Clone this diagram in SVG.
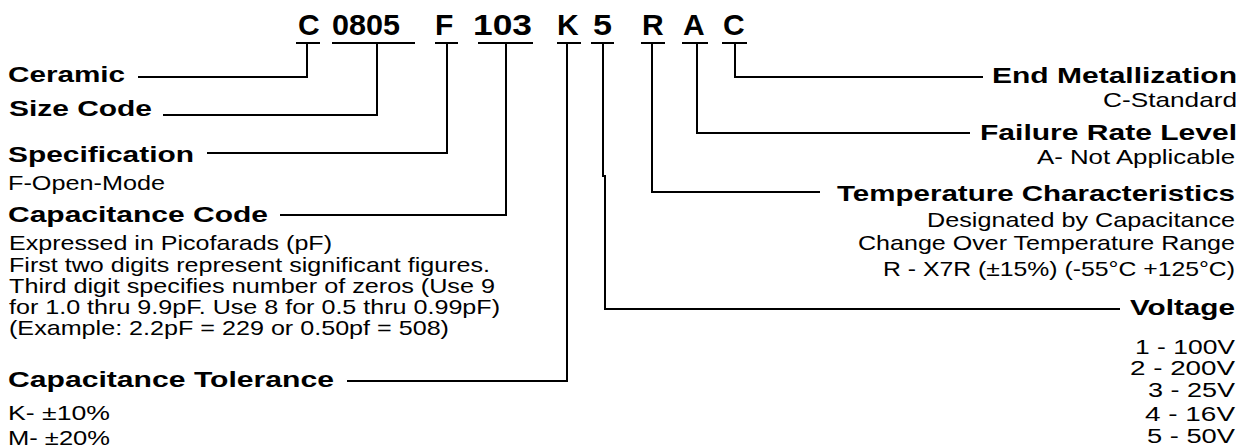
<svg xmlns="http://www.w3.org/2000/svg" width="1248" height="448" viewBox="0 0 1248 448">
<style>
.code{font-family:"Liberation Sans",Arial,sans-serif;font-weight:bold;font-size:30px;fill:#000}
.b{font-family:"Liberation Sans",Arial,sans-serif;font-weight:bold;font-size:22px;fill:#000}
.r{font-family:"Liberation Sans",Arial,sans-serif;font-size:21px;fill:#000}
.v{font-family:"Liberation Sans",Arial,sans-serif;font-size:20px;fill:#000}
.ul{stroke:#000;stroke-width:2;fill:none}
.c{stroke:#000;stroke-width:2;fill:none}
</style>
<rect width="1248" height="448" fill="#fff"/>
<g id="codes">
  <g id="code-C"><text class="code" x="298" y="35">C</text><line class="ul" x1="296" y1="43" x2="320" y2="43"/></g>
  <g id="code-0805"><text class="code" x="332" y="35" textLength="68" lengthAdjust="spacingAndGlyphs">0805</text><line class="ul" x1="332" y1="43" x2="415" y2="43"/></g>
  <g id="code-F"><text class="code" x="435" y="35">F</text><line class="ul" x1="435" y1="43" x2="458" y2="43"/></g>
  <g id="code-103"><text class="code" x="473" y="35" textLength="59" lengthAdjust="spacingAndGlyphs">103</text><line class="ul" x1="478" y1="43" x2="533" y2="43"/></g>
  <g id="code-K"><text class="code" x="557" y="35">K</text><line class="ul" x1="557" y1="43" x2="581" y2="43"/></g>
  <g id="code-5"><text class="code" x="593" y="35" textLength="19" lengthAdjust="spacingAndGlyphs">5</text><line class="ul" x1="591" y1="43" x2="614" y2="43"/></g>
  <g id="code-R"><text class="code" x="642" y="35">R</text><line class="ul" x1="641" y1="43" x2="665" y2="43"/></g>
  <g id="code-A"><text class="code" x="683" y="35">A</text><line class="ul" x1="682" y1="43" x2="708" y2="43"/></g>
  <g id="code-C2"><text class="code" x="723" y="35">C</text><line class="ul" x1="722" y1="43" x2="747" y2="43"/></g>
</g>
<g id="connectors">
  <path class="c" d="M307 43 V77 H138"/>
  <path class="c" d="M377 43 V115 H163"/>
  <path class="c" d="M447 43 V153 H207"/>
  <path class="c" d="M506 43 V215 H280"/>
  <path class="c" d="M567 43 V381 H347"/>
  <path class="c" d="M603 43 V176 H605 V309 H1120"/>
  <path class="c" d="M652 43 V192 H820"/>
  <path class="c" d="M697 43 V133 H970"/>
  <path class="c" d="M735 43 V77 H983"/>
</g>
<g id="ceramic"><text class="b" x="8" y="82" textLength="117" lengthAdjust="spacingAndGlyphs">Ceramic</text></g>
<g id="size-code"><text class="b" x="9" y="116" textLength="143" lengthAdjust="spacingAndGlyphs">Size Code</text></g>
<g id="specification">
  <text class="b" x="8" y="162" textLength="186" lengthAdjust="spacingAndGlyphs">Specification</text>
  <text class="r" x="8" y="190" textLength="157" lengthAdjust="spacingAndGlyphs">F-Open-Mode</text>
</g>
<g id="capacitance-code">
  <text class="b" x="8" y="222" textLength="260" lengthAdjust="spacingAndGlyphs">Capacitance Code</text>
  <text class="r" x="9" y="250" textLength="323" lengthAdjust="spacingAndGlyphs">Expressed in Picofarads (pF)</text>
  <text class="r" x="9" y="272" textLength="481" lengthAdjust="spacingAndGlyphs">First two digits represent significant figures.</text>
  <text class="r" x="9" y="293" textLength="486" lengthAdjust="spacingAndGlyphs">Third digit specifies number of zeros (Use 9</text>
  <text class="r" x="9" y="314" textLength="491" lengthAdjust="spacingAndGlyphs">for 1.0 thru 9.9pF. Use 8 for 0.5 thru 0.99pF)</text>
  <text class="r" x="9" y="335" textLength="440" lengthAdjust="spacingAndGlyphs">(Example: 2.2pF = 229 or 0.50pf = 508)</text>
</g>
<g id="capacitance-tolerance">
  <text class="b" x="8" y="387" textLength="326" lengthAdjust="spacingAndGlyphs">Capacitance Tolerance</text>
  <text class="r" x="8" y="420" textLength="102" lengthAdjust="spacingAndGlyphs">K- ±10%</text>
  <text class="r" x="8" y="445" textLength="102" lengthAdjust="spacingAndGlyphs">M- ±20%</text>
</g>
<g id="end-metallization">
  <text class="b" x="992" y="83" textLength="245" lengthAdjust="spacingAndGlyphs">End Metallization</text>
  <text class="r" x="1103" y="107" textLength="134" lengthAdjust="spacingAndGlyphs">C-Standard</text>
</g>
<g id="failure-rate">
  <text class="b" x="980" y="140" textLength="257" lengthAdjust="spacingAndGlyphs">Failure Rate Level</text>
  <text class="r" x="1037" y="164" textLength="198" lengthAdjust="spacingAndGlyphs">A- Not Applicable</text>
</g>
<g id="temperature">
  <text class="b" x="837" y="201" textLength="398" lengthAdjust="spacingAndGlyphs">Temperature Characteristics</text>
  <text class="r" x="927" y="227" textLength="308" lengthAdjust="spacingAndGlyphs">Designated by Capacitance</text>
  <text class="r" x="858" y="250" textLength="377" lengthAdjust="spacingAndGlyphs">Change Over Temperature Range</text>
  <text class="r" x="883" y="276" textLength="352" lengthAdjust="spacingAndGlyphs">R - X7R (±15%) (-55°C +125°C)</text>
</g>
<g id="voltage">
  <text class="b" x="1130" y="315" textLength="105" lengthAdjust="spacingAndGlyphs">Voltage</text>
  <text class="v" x="1135" y="354" textLength="100" lengthAdjust="spacingAndGlyphs">1 - 100V</text>
  <text class="v" x="1130" y="375" textLength="105" lengthAdjust="spacingAndGlyphs">2 - 200V</text>
  <text class="v" x="1148" y="397" textLength="87" lengthAdjust="spacingAndGlyphs">3 - 25V</text>
  <text class="v" x="1145" y="421" textLength="90" lengthAdjust="spacingAndGlyphs">4 - 16V</text>
  <text class="v" x="1147" y="443" textLength="88" lengthAdjust="spacingAndGlyphs">5 - 50V</text>
</g>
</svg>
